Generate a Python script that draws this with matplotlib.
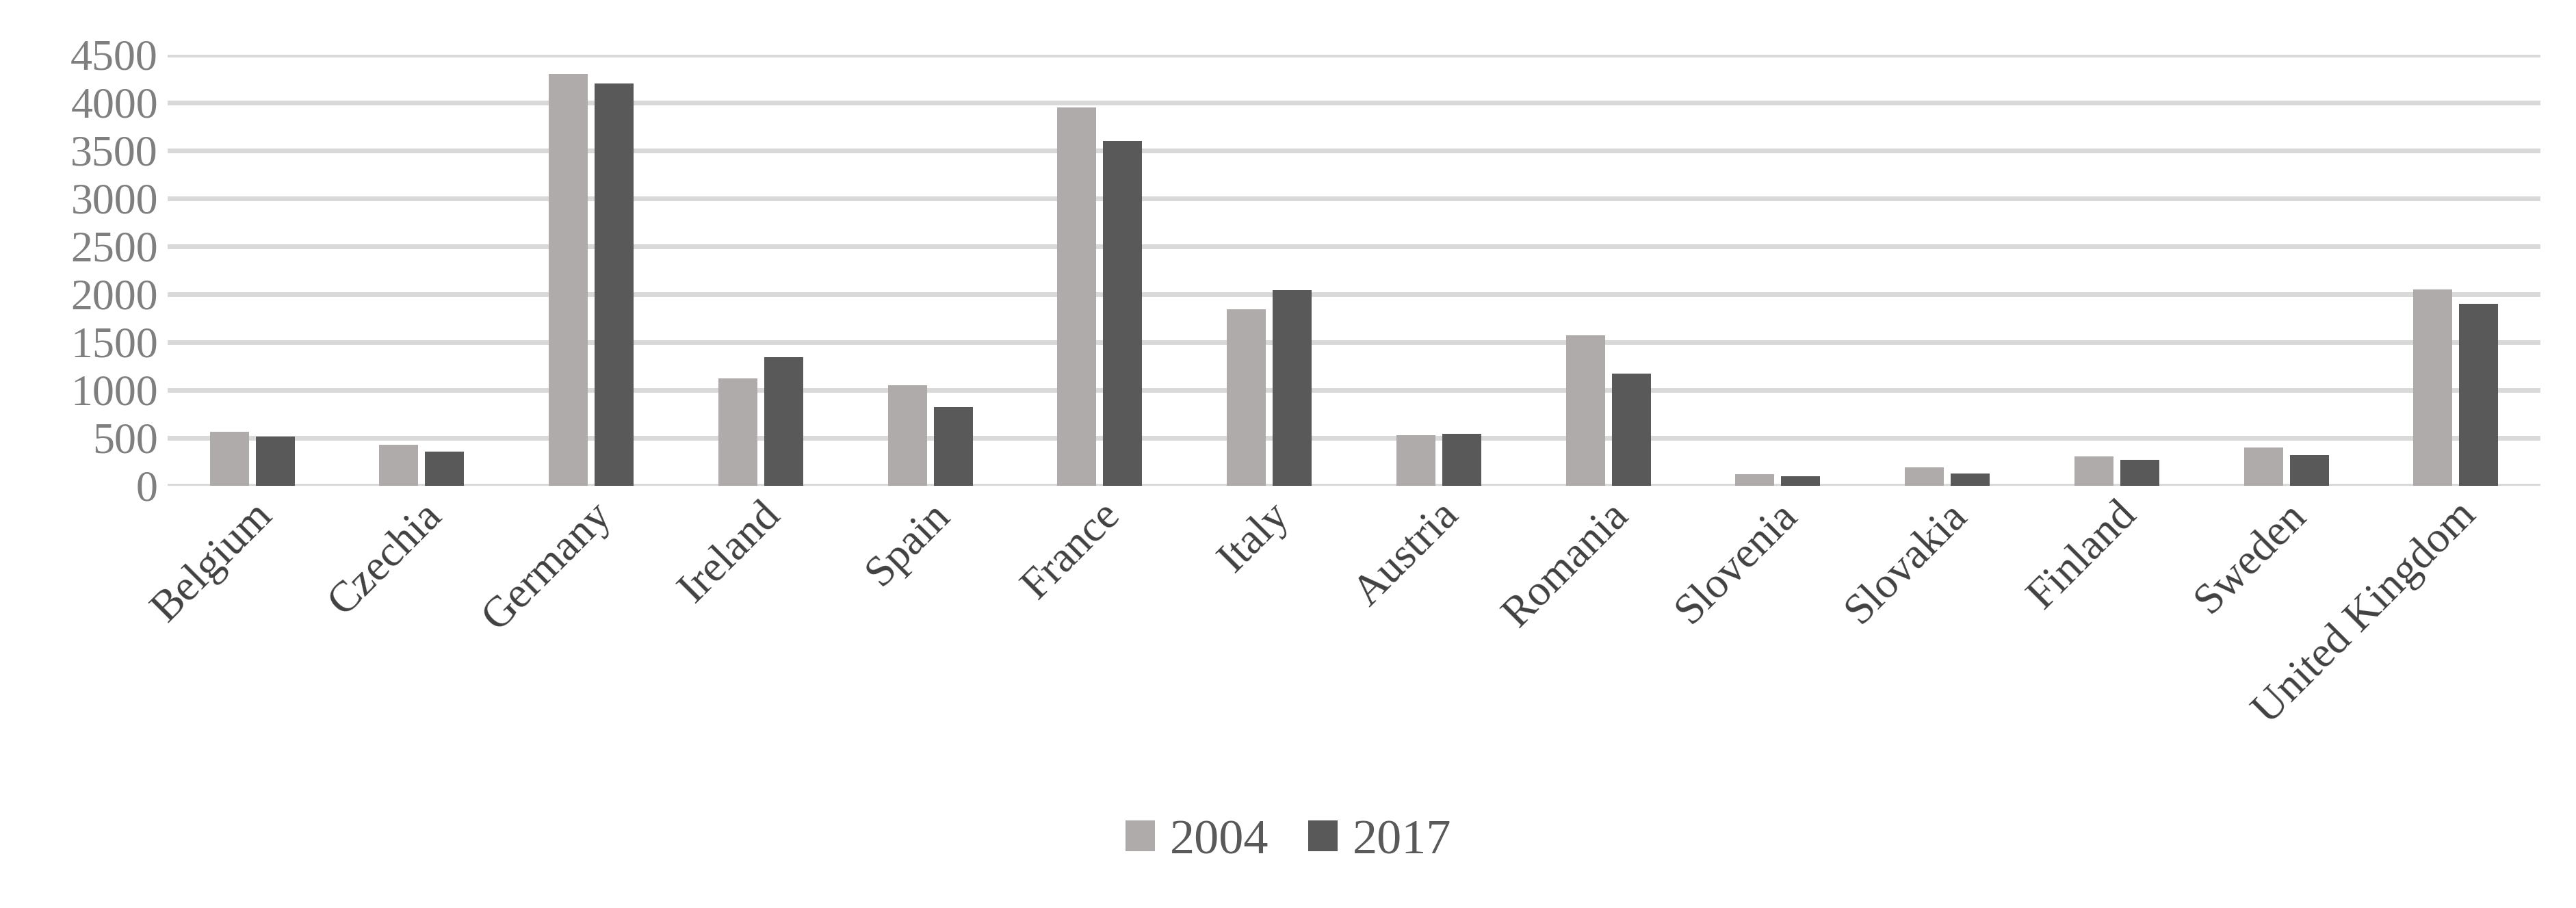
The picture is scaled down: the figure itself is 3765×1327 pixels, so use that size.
import matplotlib
matplotlib.use("Agg")
import matplotlib.pyplot as plt
import numpy as np

countries = ["Belgium","Czechia","Germany","Ireland","Spain","France","Italy","Austria",
             "Romania","Slovenia","Slovakia","Finland","Sweden","United Kingdom"]
v2004 = [565,430,4300,1120,1050,3950,1840,530,1570,120,190,310,400,2050]
v2017 = [515,360,4200,1340,820,3600,2040,540,1170,100,130,270,320,1900]
yticks = [0,500,1000,1500,2000,2500,3000,3500,4000,4500]

plt.rcParams['font.family'] = ['Liberation Serif', 'DejaVu Serif']
fig = plt.figure(figsize=(37.66,13.27), dpi=100)
ax = fig.add_axes([0.065,0.465,0.921,0.475])
x = np.arange(len(countries))
w = 0.23
ax.bar(x-0.135, v2004, w, color="#AFABAB", label="2004", zorder=3)
ax.bar(x+0.135, v2017, w, color="#595959", label="2017", zorder=3)
ax.set_xlim(-0.5, len(countries)-0.5)
ax.set_ylim(0,4500)
ax.set_yticks(yticks)
ax.yaxis.grid(True, color="#D9D9D9", linewidth=5, zorder=0)
for s in ax.spines.values():
    s.set_visible(False)
ax.tick_params(length=0, labelsize=46, colors="#595959", pad=10)
ax.tick_params(axis='y', labelcolor="#7F7F7F")
ax.set_xticks(x)
ax.set_xticklabels(countries, rotation=45, ha='right', rotation_mode='anchor', color="#404040")
fig.legend(loc='lower center', bbox_to_anchor=(0.5,0.0), ncol=2, frameon=False,
           fontsize=52, handlelength=0.6, handleheight=0.6, columnspacing=0.8,
           handletextpad=0.3, labelcolor="#595959")
fig.savefig("out.png", dpi=100)
